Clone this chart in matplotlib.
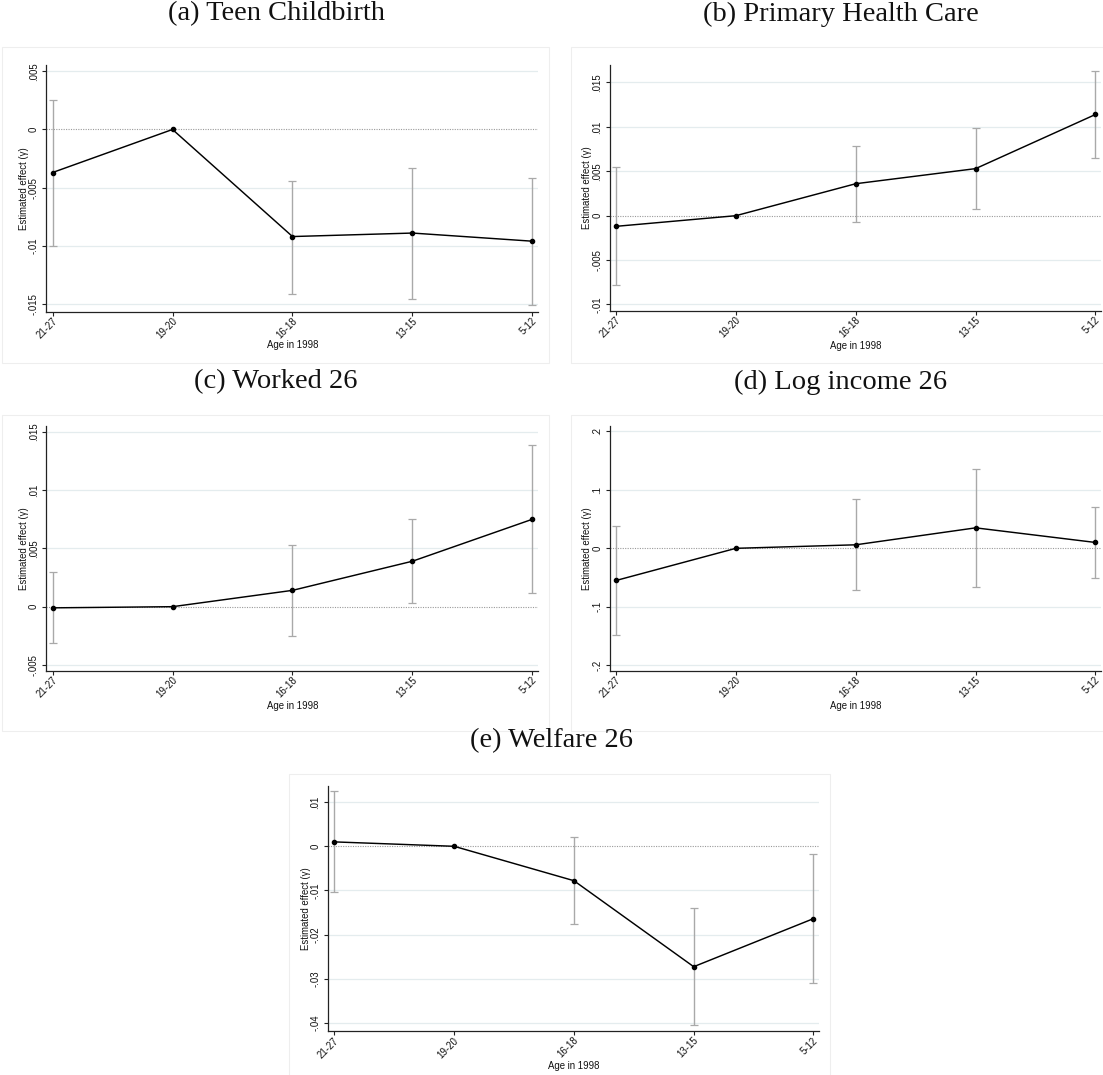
import numpy as np
import matplotlib
matplotlib.use("Agg")
import matplotlib.pyplot as plt
from matplotlib.patches import Rectangle
from matplotlib.transforms import ScaledTranslation

W, H = 1103, 1075
nan = np.nan

ages = ['21-27', '19-20', '16-18', '13-15', '5-12']

# (a) teen childbirth
teen_est = [-0.0037, 0.0, -0.0092, -0.0089, -0.0096]
teen_lo = [-0.0100, nan, -0.0141, -0.0146, -0.0151]
teen_hi = [0.0025, nan, -0.0044, -0.0033, -0.0042]

# (b) primary health care
phc_est = [-0.0012, 0.0, 0.0036, 0.0053, 0.0114]
phc_lo = [-0.0078, nan, -0.0007, 0.0007, 0.0065]
phc_hi = [0.0055, nan, 0.0079, 0.0099, 0.0163]

# (c) worked 26
work_est = [-0.0001, 0.0, 0.0014, 0.0039, 0.0075]
work_lo = [-0.0031, nan, -0.0025, 0.0003, 0.0012]
work_hi = [0.0030, nan, 0.0053, 0.0075, 0.0139]

# (d) log income 26
inc_est = [-0.055, 0.0, 0.006, 0.035, 0.010]
inc_lo = [-0.148, nan, -0.072, -0.066, -0.051]
inc_hi = [0.039, nan, 0.084, 0.135, 0.071]

# (e) welfare 26
welf_est = [0.0010, 0.0, -0.0078, -0.0273, -0.0164]
welf_lo = [-0.0104, nan, -0.0176, -0.0406, -0.0311]
welf_hi = [0.0125, nan, 0.0020, -0.0141, -0.0017]

titles = ['(a) Teen Childbirth', '(b) Primary Health Care', '(c) Worked 26',
          '(d) Log income 26', '(e) Welfare 26']

sans = ['Liberation Sans', 'DejaVu Sans']
plt.rcParams['font.family'] = sans
fs = 6.9

fig = plt.figure(figsize=(W / 100, H / 100), dpi=100)


def stata_fmt(v):
    if abs(v) < 1e-12:
        return '0'
    s = f"{v:g}"
    return s.replace('0.', '.')


def panel(left, top, right, bottom, est, lo, hi, yticks, ylim, xlab_top, ylab_x):
    ax = fig.add_axes([left / W, 1 - bottom / H, (right - left) / W, (bottom - top) / H])
    x = np.arange(len(ages))
    est = np.array(est)
    lo = np.array(lo)
    hi = np.array(hi)
    for t in yticks:
        if abs(t) > 1e-12:
            ax.axhline(t, color='#e4ecee', lw=0.9, zorder=0)
    ax.axhline(0, color='#9a9a9a', lw=0.8, ls=(0, (1, 1.2)), zorder=1)
    ok = ~np.isnan(lo)
    ax.errorbar(x[ok], est[ok], yerr=[est[ok] - lo[ok], hi[ok] - est[ok]], fmt='none',
                ecolor='#a9a9a9', elinewidth=1.0, capsize=2.6, capthick=0.9, zorder=2)
    ax.plot(x, est, color='black', lw=1.05, marker='o', ms=3.0, zorder=3)
    ax.set_xlim(-0.051, 4.046)
    ax.set_ylim(*ylim)
    ax.set_xticks(x)
    ax.set_xticklabels(ages, rotation=45, ha='right', va='center', rotation_mode='anchor',
                       fontsize=fs)
    ax.set_yticks(yticks)
    ax.set_yticklabels([stata_fmt(t) for t in yticks], rotation=90, va='center', fontsize=fs)
    ax.tick_params(axis='both', direction='out', length=3.1, width=0.8, color='#222222',
                   labelcolor='#111111')
    ax.tick_params(axis='x', pad=2.6)
    ax.tick_params(axis='y', pad=2.4)
    # nudge the slanted labels a little to the right, like the original
    shift = ScaledTranslation(3 / 100, 0, fig.dpi_scale_trans)
    for tk in ax.xaxis.get_major_ticks():
        tk.label1.set_transform(tk.label1.get_transform() + shift)
    for s in ['top', 'right']:
        ax.spines[s].set_visible(False)
    for s in ['left', 'bottom']:
        ax.spines[s].set_color('#222222')
        ax.spines[s].set_linewidth(0.9)
    ax.set_ylabel('Estimated effect (γ)', fontsize=fs, color='#111111')
    ax.set_xlabel('Age in 1998', fontsize=fs, color='#111111')
    ax.yaxis.set_label_coords((ylab_x - left) / (right - left), 0.5)
    ax.xaxis.set_label_coords(0.5, -(xlab_top - bottom) / (bottom - top))
    return ax


def border(x0, y0, x1, y1):
    fig.add_artist(Rectangle((x0 / W, 1 - y1 / H), (x1 - x0) / W, (y1 - y0) / H,
                             transform=fig.transFigure, fill=False,
                             edgecolor='#eeeeee', lw=0.8))


border(2, 47, 549, 363)
border(571, 47, 1125, 363)
border(2, 415, 549, 731)
border(571, 415, 1125, 731)
border(289, 774, 830, 1090)

panel(46.4, 65, 538, 311.5, teen_est, teen_lo, teen_hi,
      [-0.015, -0.01, -0.005, 0, 0.005], (-0.01564, 0.00554), 340.5, 29)
panel(609.9, 65, 1101, 310.7, phc_est, phc_lo, phc_hi,
      [-0.01, -0.005, 0, 0.005, 0.01, 0.015], (-0.0107, 0.01697), 340.5, 592)
panel(46.4, 425.7, 538, 670.7, work_est, work_lo, work_hi,
      [-0.005, 0, 0.005, 0.01, 0.015], (-0.00549, 0.01552), 701, 29)
panel(609.9, 425.7, 1101, 670.7, inc_est, inc_lo, inc_hi,
      [-0.2, -0.1, 0, 0.1, 0.2], (-0.2092, 0.2096), 701, 592)
panel(328.2, 785.7, 819, 1031, welf_est, welf_lo, welf_hi,
      [-0.04, -0.03, -0.02, -0.01, 0, 0.01], (-0.04188, 0.01374), 1061, 311)

title_pos = [(276, 14), (841, 14), (276, 382), (841, 382), (552, 741)]
for t, (tx, ty) in zip(titles, title_pos):
    fig.text(tx / W, 1 - ty / H, t, ha='center', va='center',
             fontsize=20.5, family=['Liberation Serif', 'DejaVu Serif'], color='#111111')

fig.savefig('out.png', dpi=100, facecolor='white')
